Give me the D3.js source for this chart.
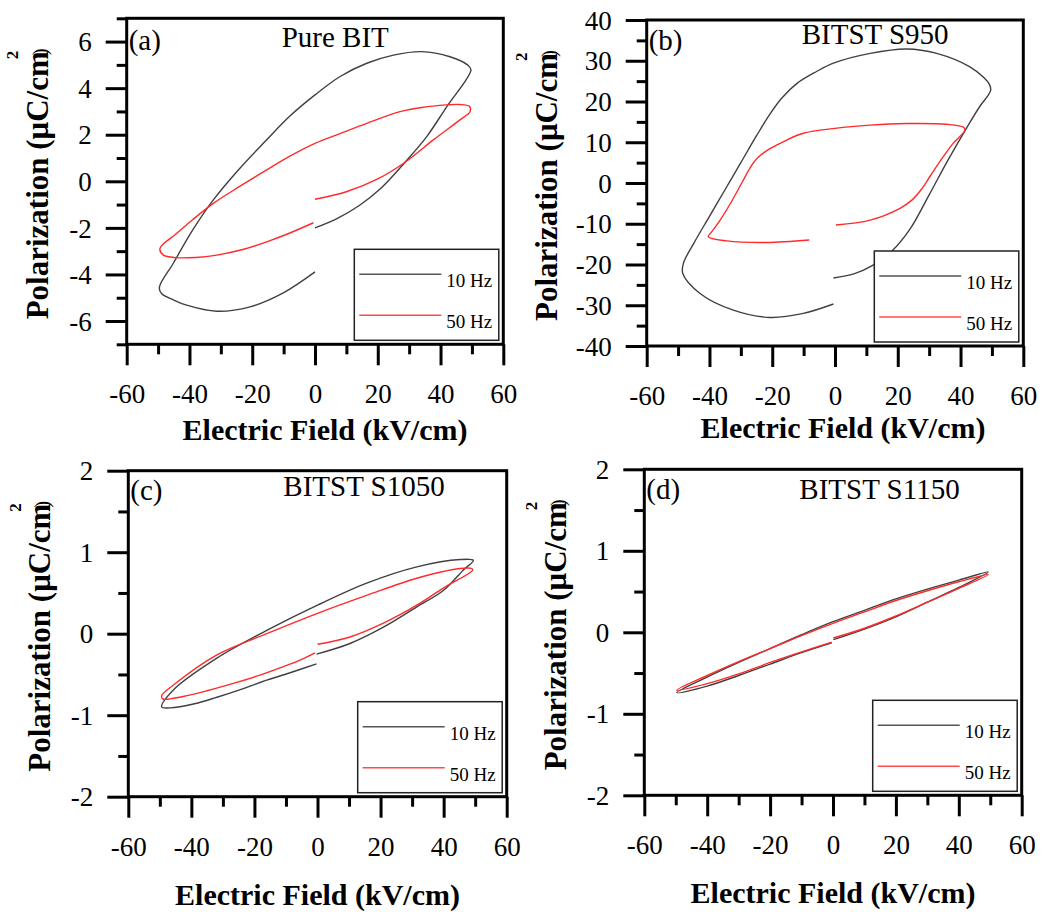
<!DOCTYPE html>
<html>
<head>
<meta charset="utf-8">
<script src="https://cdn.jsdelivr.net/npm/d3@7"></script>
<style>
	body { margin: 0; background: #fff; }
	svg { display: block; }
	text { font-family: "Liberation Serif", "Times New Roman", serif; fill: #000; }
</style>
</head>
<body>
<svg id="chart" width="1044" height="912"></svg>
<script>
"use strict";

//
// Data
//
var seriesNames = ["10 Hz", "50 Hz"];
var seriesColors = ["#404040", "#ff2a2a"];
var legendColors = ["#555555", "#ff4a4a"];
var panelLabels = ["(a)", "(b)", "(c)", "(d)"];
var sampleNames = ["Pure BIT", "BITST S950", "BITST S1050", "BITST S1150"];

var fieldTicks = [-60, -40, -20, 0, 20, 40, 60];
var fieldMinor = [-50, -30, -10, 10, 30, 50];
var polTicksA = [-6, -4, -2, 0, 2, 4, 6];
var polMinorA = [-7, -5, -3, -1, 1, 3, 5, 7];
var polTicksB = [-40, -30, -20, -10, 0, 10, 20, 30, 40];
var polMinorB = [-35, -25, -15, -5, 5, 15, 25, 35];
var polTicksCD = [-2, -1, 0, 1, 2];
var polMinorCD = [-1.5, -0.5, 0.5, 1.5];

// P-E loops, [field kV/cm, polarization uC/cm2]
var loopA10 = [[0,-2.0],[7,-1.6],[14,-1.05],[21,-0.3],[28.7,0.82],[35.6,1.92],[42,3.21],[49.7,4.79],
	[48.6,5.0],[43,5.35],[34,5.57],[25,5.42],[16.5,5.07],[8,4.5],[0,3.71],[-8,2.8],[-15.4,1.78],
	[-24,0.55],[-32.4,-0.8],[-39,-2.1],[-45.2,-3.53],[-49.6,-4.56],[-48.9,-4.82],[-45,-5.1],[-40.9,-5.32],
	[-31.3,-5.58],[-20.7,-5.39],[-10.1,-4.79],[0,-3.89]];
var loopA50 = [[0,-0.77],[10,-0.45],[20,0.1],[28.7,0.82],[37.7,1.78],[46.2,2.64],[49.4,2.99],
	[49.2,3.22],[46,3.3],[41.9,3.28],[34,3.17],[27.1,2.99],[16.5,2.49],[8,2.05],[0,1.63],[-8,1.08],
	[-15.4,0.49],[-24,-0.22],[-32.4,-0.95],[-39,-1.65],[-44.1,-2.24],[-49.4,-2.88],[-48.3,-3.17],
	[-44.1,-3.28],[-38,-3.27],[-31.3,-3.17],[-23,-2.93],[-15.4,-2.6],[-8,-2.22],[-0.5,-1.78]];
var loopB10 = [[-0.5,-23.3],[6,-22.3],[12,-20.2],[18,-16.8],[24,-11.2],[30,-2.9],[36,5.6],[42,13.6],
	[46.5,19.2],[48.6,21.3],[49.6,22.8],[49.2,24.2],[47.5,25.8],[43,28.5],[32.4,31.8],[22.8,32.9],
	[11.2,31.8],[-0.5,29.4],[-6,27.3],[-12,24.5],[-17,20.8],[-21,16.6],[-25,11.6],[-30,5.0],[-35,-1.6],
	[-40,-8.2],[-45,-14.8],[-48.3,-19.7],[-48.5,-22.2],[-43,-27.1],[-32.4,-31.2],[-20.7,-33.0],
	[-10.1,-32.0],[-0.5,-29.7]];
var loopB50 = [[0.3,-10.3],[11.2,-9.1],[20.7,-6.2],[24.5,-4.2],[27.5,-1.6],[30.5,1.9],[34,5.9],[37.5,9.6],
	[41.4,13.0],[40.9,13.7],[35.6,14.4],[22.8,14.6],[11.2,14.2],[0,13.4],[-10.1,12.2],[-16,10.3],
	[-21,8.3],[-24.5,6.3],[-27,3.8],[-29.5,0.3],[-33,-4.6],[-36.6,-9.1],[-39.5,-12.2],[-40.4,-13.2],
	[-34.5,-14.2],[-21.8,-14.6],[-8.2,-14.0]];
var loopC10 = [[-0.3,-0.25],[10.3,-0.12],[20.9,0.08],[31.5,0.33],[39.9,0.53],[46.2,0.78],[49.4,0.90],
	[45.2,0.91],[31.5,0.82],[15.6,0.62],[0,0.35],[-16.1,0.04],[-31.9,-0.30],[-45.7,-0.69],[-49.4,-0.90],
	[-46.8,-0.91],[-39,-0.86],[-31.9,-0.78],[-24,-0.68],[-16.1,-0.57],[-8,-0.47],[-0.3,-0.37]];
var loopC50 = [[0,-0.13],[10.3,-0.04],[20.9,0.13],[31.5,0.35],[39.9,0.56],[49.2,0.78],[48.9,0.80],
	[45.2,0.80],[31.5,0.68],[15.6,0.47],[0,0.25],[-16.1,0],[-31.9,-0.26],[-45.7,-0.63],[-49.4,-0.76],
	[-49.1,-0.80],[-42.6,-0.77],[-35,-0.70],[-26.7,-0.61],[-18,-0.505],[-10.8,-0.405],[-5,-0.315],[-0.8,-0.235]];
var loopD10 = [[0.1,-0.09],[10,0.04],[20,0.19],[30,0.37],[40,0.55],[49.4,0.74],[40,0.64],[30,0.53],
	[20,0.41],[10,0.27],[0,0.13],[-10,-0.03],[-20,-0.2],[-30,-0.37],[-40,-0.55],[-49.7,-0.74],
	[-40,-0.66],[-30,-0.53],[-20,-0.39],[-10,-0.25],[-0.4,-0.13]];
var loopD50 = [[0.1,-0.07],[10,0.05],[20,0.2],[30,0.37],[40,0.54],[49.4,0.71],[40,0.62],[30,0.51],
	[20,0.39],[10,0.25],[0,0.11],[-10,-0.04],[-20,-0.2],[-30,-0.36],[-40,-0.53],[-49.7,-0.71],
	[-40,-0.63],[-30,-0.51],[-20,-0.37],[-10,-0.24],[-0.4,-0.12]];

//
// Layout
//
var panels = [
	{ left: 126.7, right: 503.3, top: 18.3, bottom: 344.3, yDomain: [-7, 7], yTicks: polTicksA, yMinor: polMinorA,
		loops: [loopA10, loopA50], nameDy: 28.5, labelDy: 32, xTitleDx: 10, xTitleDy: 96, yTitleDx: 79 },
	{ left: 646.7, right: 1023.3, top: 20, bottom: 346, yDomain: [-40, 40], yTicks: polTicksB, yMinor: polMinorB,
		loops: [loopB10, loopB50], nameDy: 24, labelDy: 30, xTitleDx: 8, xTitleDy: 92, yTitleDx: 90 },
	{ left: 128.3, right: 506.7, top: 470.7, bottom: 796.7, yDomain: [-2, 2], yTicks: polTicksCD, yMinor: polMinorCD,
		loops: [loopC10, loopC50], nameDy: 25, labelDy: 29, xTitleDx: 0, xTitleDy: 108, yTitleDx: 78 },
	{ left: 644.3, right: 1021.7, top: 469.3, bottom: 795.3, yDomain: [-2, 2], yTicks: polTicksCD, yMinor: polMinorCD,
		loops: [loopD10, loopD50], nameDy: 30, labelDy: 30, xTitleDx: 0, xTitleDy: 108, yTitleDx: 78 }
];

var svg = d3.select("#chart");
var plain = function(d) { return String(d); };

panels.forEach(function(p, i) {
	var x = d3.scaleLinear().domain([-60, 60]).range([p.left, p.right]);
	var y = d3.scaleLinear().domain(p.yDomain).range([p.bottom, p.top]);
	var g = svg.append("g");

	//
	// Axes
	//
	var xMajor = g.append("g")
		.attr("transform", "translate(0," + p.bottom + ")")
		.call(d3.axisBottom(x).tickValues(fieldTicks).tickSize(21).tickSizeOuter(0).tickFormat(plain));
	xMajor.selectAll("text")
		.attr("y", 59).attr("dy", null)
		.style("font-size", "27px");

	g.append("g")
		.attr("transform", "translate(0," + p.bottom + ")")
		.call(d3.axisBottom(x).tickValues(fieldMinor).tickSize(10).tickSizeOuter(0).tickFormat(""));

	var yMajor = g.append("g")
		.attr("transform", "translate(" + p.left + ",0)")
		.call(d3.axisLeft(y).tickValues(p.yTicks).tickSize(21).tickPadding(14).tickSizeOuter(0).tickFormat(plain));
	yMajor.selectAll("text")
		.attr("dy", "0.34em")
		.style("font-size", "27px");

	g.append("g")
		.attr("transform", "translate(" + p.left + ",0)")
		.call(d3.axisLeft(y).tickValues(p.yMinor).tickSize(10).tickSizeOuter(0).tickFormat(""));

	g.selectAll(".domain").remove();
	g.selectAll(".tick line").attr("stroke", "#000").attr("stroke-width", 3);
	g.selectAll(".tick text").attr("fill", "#000").style("font-family", "'Liberation Serif', serif");

	//
	// Loops
	//
	var line = d3.line()
		.x(function(d) { return x(d[0]); })
		.y(function(d) { return y(d[1]); })
		.curve(d3.curveCatmullRom.alpha(0.5));

	g.selectAll(".loop")
		.data(p.loops)
		.enter()
		.append("path")
		.attr("class", "loop")
		.attr("d", line)
		.attr("fill", "none")
		.attr("stroke", function(d, k) { return seriesColors[k]; })
		.attr("stroke-width", 1.4);

	//
	// Frame
	//
	g.append("rect")
		.attr("x", p.left).attr("y", p.top)
		.attr("width", p.right - p.left).attr("height", p.bottom - p.top)
		.attr("fill", "none").attr("stroke", "#000").attr("stroke-width", 3);

	//
	// Texts
	//
	g.append("text")
		.attr("x", p.left + 2).attr("y", p.top + p.labelDy)
		.style("font-size", "29px")
		.text(panelLabels[i]);

	g.append("text")
		.attr("x", p.left + 155).attr("y", p.top + p.nameDy)
		.style("font-size", "29px")
		.text(sampleNames[i]);

	g.append("text")
		.attr("x", (p.left + p.right) / 2 + p.xTitleDx).attr("y", p.bottom + p.xTitleDy)
		.attr("text-anchor", "middle")
		.style("font-size", "30px").style("font-weight", "bold")
		.text("Electric Field (kV/cm)");

	// y title: main text, raised "2" and small ")" placed after it
	var bx = p.left - p.yTitleDx;
	var yt = g.append("text")
		.style("font-size", "31px").style("font-weight", "bold")
		.text("Polarization (\u03bcC/cm");
	var len = yt.node().getComputedTextLength();
	var startY = (p.top + p.bottom) / 2 + len / 2 + 4;
	var endY = startY - len;
	yt.attr("transform", "translate(" + bx + "," + startY + ") rotate(-90)");

	g.append("text")
		.attr("transform", "translate(" + (bx - 29.5) + "," + (endY + 8) + ") rotate(-90)")
		.style("font-size", "17px").style("font-weight", "bold")
		.text("2");

	g.append("text")
		.attr("transform", "translate(" + (bx - 1) + "," + (endY + 4) + ") rotate(-90)")
		.style("font-size", "21px")
		.text(")");

	//
	// Legend
	//
	var lx = p.right - 149, ly = p.bottom - 95;
	var legend = g.append("g");
	legend.append("rect")
		.attr("x", lx).attr("y", ly)
		.attr("width", 144.5).attr("height", 91)
		.attr("fill", "#fff").attr("stroke", "#222").attr("stroke-width", 1.5);

	var items = legend.selectAll(".item")
		.data(seriesNames)
		.enter()
		.append("g")
		.attr("class", "item")
		.attr("transform", function(d, k) { return "translate(0," + (ly + 25 + k * 41) + ")"; });

	items.append("line")
		.attr("x1", lx + 5).attr("x2", lx + 87)
		.attr("stroke", function(d, k) { return legendColors[k]; })
		.attr("stroke-width", 1.5);

	items.append("text")
		.attr("x", lx + 92).attr("y", 13)
		.style("font-size", "19px")
		.text(function(d) { return d; });
});
</script>
</body>
</html>
